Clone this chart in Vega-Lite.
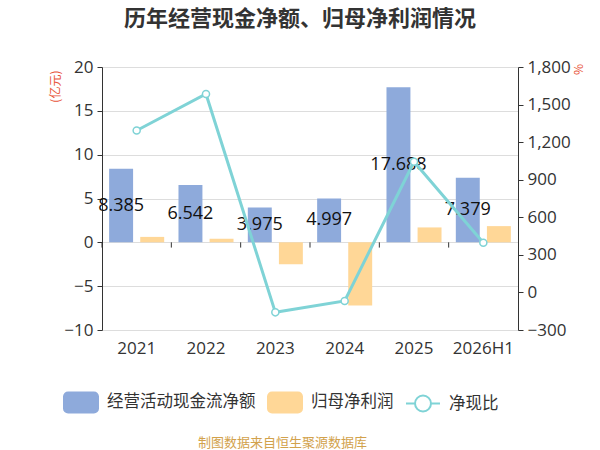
{
  "$schema": "https://vega.github.io/schema/vega-lite/v6.json",
  "width": 416,
  "height": 263,
  "autosize": "none",
  "padding": {"left": 102, "top": 67, "right": 82, "bottom": 120},
  "background": "white",
  "title": {
    "text": "历年经营现金净额、归母净利润情况",
    "frame": "group",
    "anchor": "middle",
    "dx": -10,
    "offset": 27,
    "fontSize": 22,
    "fontWeight": "bold",
    "color": "#333333",
    "font": "Noto Sans CJK SC"
  },
  "data": {
    "values": [
      {"year": "2021", "经营活动现金流净额": 8.385, "归母净利润": 0.62, "净现比": 1293},
      {"year": "2022", "经营活动现金流净额": 6.542, "归母净利润": 0.4, "净现比": 1585},
      {"year": "2023", "经营活动现金流净额": 3.975, "归母净利润": -2.5, "净现比": -159},
      {"year": "2024", "经营活动现金流净额": 4.997, "归母净利润": -7.2, "净现比": -68},
      {"year": "2025", "经营活动现金流净额": 17.688, "归母净利润": 1.7, "净现比": 1043},
      {"year": "2026H1", "经营活动现金流净额": 7.379, "归母净利润": 1.85, "净现比": 397}
    ]
  },
  "encoding": {
    "x": {
      "field": "year",
      "type": "nominal",
      "sort": null,
      "scale": {"paddingInner": 0, "paddingOuter": 0},
      "axis": {
        "title": "制图数据来自恒生聚源数据库",
        "titleColor": "#d2a24c",
        "titleFontSize": 13,
        "titleFontWeight": "normal",
        "titleFont": "Noto Sans CJK SC",
        "titlePadding": 80,
        "titleX": 180,
        "labelAngle": 0,
        "labelFontSize": 17,
        "labelColor": "#333333",
        "labelFont": "Open Sans",
        "labelPadding": 10,
        "domain": false,
        "ticks": false,
        "grid": false
      }
    }
  },
  "layer": [
    {
      "layer": [
        {
          "transform": [{"fold": ["经营活动现金流净额", "归母净利润"], "as": ["series", "value"]}],
          "mark": {"type": "bar"},
          "encoding": {
            "xOffset": {
              "field": "series",
              "type": "nominal",
              "scale": {"domain": ["经营活动现金流净额", "归母净利润"], "paddingInner": 0.23, "paddingOuter": 0.23}
            },
            "y": {
              "field": "value",
              "type": "quantitative",
              "scale": {"domain": [-10, 20], "nice": false},
              "axis": {
                "title": "(亿元)",
                "titleColor": "#e8543a",
                "titleFontSize": 12,
                "titleFontWeight": "normal",
                "titleFont": "Noto Sans CJK SC",
                "titleAngle": 270,
                "titleAlign": "right",
                "titleBaseline": "middle",
                "titleX": -47,
                "titleY": 3,
                "values": [-10, -5, 0, 5, 10, 15, 20],
                "labelFontSize": 17,
                "labelColor": "#333333",
                "labelFont": "Open Sans",
                "labelPadding": 4,
                "domainColor": "#333333",
                "tickColor": "#333333",
                "tickSize": 5,
                "gridColor": "#dddddd"
              }
            },
            "color": {
              "field": "series",
              "type": "nominal",
              "scale": {
                "domain": ["经营活动现金流净额", "归母净利润", "净现比"],
                "range": ["#8eaadb", "#ffd797", "#7fd3d6"]
              },
              "legend": {
                "orient": "none",
                "direction": "horizontal",
                "legendX": -39,
                "legendY": 317,
                "title": null,
                "labelFontSize": 16.5,
                "labelColor": "#333333",
                "labelFont": "Noto Sans CJK SC",
                "labelOffset": 8,
                "columnPadding": 8,
                "symbolSize": 1156,
                "encode": {
                  "symbols": {
                    "enter": {
                      "fillOpacity": {"signal": "datum.value === '净现比' ? 0 : 1"}
                    },
                    "update": {
                      "shape": {"signal": "datum.value === '净现比' ? 'M-1,0H-0.47M0.47,0H1M0.47,0A0.47,0.47 0 1 1 -0.47,0A0.47,0.47 0 1 1 0.47,0Z' : 'M-0.76,-0.59H0.76A0.24,0.24 0 0 1 1,-0.35V0.35A0.24,0.24 0 0 1 0.76,0.59H-0.76A0.24,0.24 0 0 1 -1,0.35V-0.35A0.24,0.24 0 0 1 -0.76,-0.59Z'"},
                      "fill": {"signal": "datum.value === '净现比' ? '#ffffff' : datum.value === '归母净利润' ? '#ffd797' : '#8eaadb'"},
                      "fillOpacity": {"signal": "datum.value === '净现比' ? 0 : 1"},
                      "stroke": {"signal": "datum.value === '净现比' ? '#7fd3d6' : 'transparent'"},
                      "strokeWidth": {"value": 2},
                      "opacity": {"value": 1}
                    }
                  }
                }
              }
            }
          }
        },
        {
          "mark": {"type": "rule", "color": "#333333", "strokeWidth": 1},
          "encoding": {"y": {"datum": 0}}
        },
        {
          "mark": {"type": "rule", "color": "#333333", "strokeWidth": 1},
          "encoding": {
            "x": {"field": "year", "type": "nominal", "sort": null, "bandPosition": 0},
            "y": {"datum": 0},
            "y2": {"datum": -0.6}
          }
        },
        {
          "transform": [
            {"fold": ["经营活动现金流净额", "归母净利润"], "as": ["series", "value"]},
            {"filter": "datum.series === '经营活动现金流净额'"},
            {"calculate": "datum.value / 2", "as": "mid"}
          ],
          "mark": {"type": "text", "fontSize": 18, "color": "#111111", "font": "Open Sans", "baseline": "middle"},
          "encoding": {
            "xOffset": {"field": "series", "type": "nominal"},
            "y": {"field": "mid", "type": "quantitative"},
            "text": {"field": "value", "type": "quantitative", "format": ".3f"}
          }
        }
      ]
    },
    {
      "mark": {
        "type": "line",
        "strokeWidth": 3,
        "point": {"filled": false, "fill": "white", "size": 50, "strokeWidth": 1.5}
      },
      "encoding": {
        "y": {
          "field": "净现比",
          "type": "quantitative",
          "scale": {"domain": [-300, 1800], "nice": false},
          "axis": {
            "orient": "right",
            "title": "%",
            "titleColor": "#e8543a",
            "titleFontSize": 12,
            "titleFontWeight": "normal",
            "titleAngle": 90,
            "titleAlign": "center",
            "titleBaseline": "middle",
            "titleX": 59,
            "titleY": 2,
            "values": [-300, 0, 300, 600, 900, 1200, 1500, 1800],
            "format": ",d",
            "labelFontSize": 17,
            "labelColor": "#333333",
            "labelFont": "Open Sans",
            "labelPadding": 4,
            "domainColor": "#333333",
            "tickColor": "#333333",
            "tickSize": 5,
            "grid": false
          }
        },
        "color": {"datum": "净现比"}
      }
    }
  ],
  "resolve": {"scale": {"y": "independent"}},
  "config": {
    "view": {"stroke": null},
    "font": "Noto Sans CJK SC"
  }
}
